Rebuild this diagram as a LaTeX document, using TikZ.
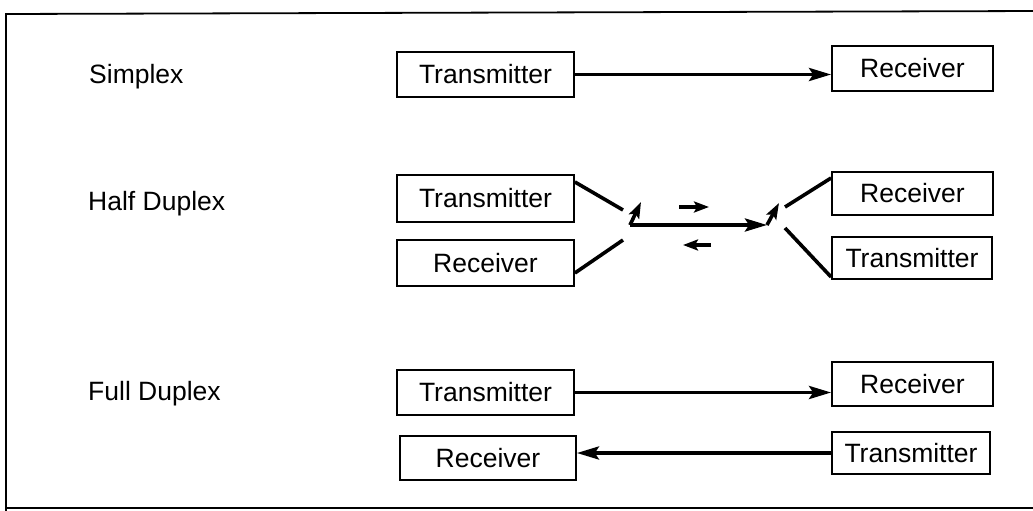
\documentclass[tikz,border=0pt]{standalone}
\usepackage{fontspec}
\setmainfont{Liberation Sans}
\usetikzlibrary{arrows.meta}
\begin{document}
\begin{tikzpicture}[x=1pt,y=-1pt,
  box/.style={draw, line width=1.8pt, inner sep=0pt, font=\fontsize{26.5}{30}\selectfont},
  lbl/.style={anchor=base west, inner sep=0pt, font=\fontsize{26.5}{30}\selectfont},
  conn/.style={line width=3.6pt, -{Stealth[length=22pt,width=13pt,inset=4pt]}},
  wire/.style={line width=3.6pt},
  tip/.style={line width=3.6pt, -{Stealth[length=16pt,width=11pt,inset=3pt]}},
  small/.style={line width=3.2pt, -{Stealth[length=15pt,width=11pt,inset=3pt]}}]
\useasboundingbox (0,0) rectangle (1033,511);
\fill[white] (0,0) rectangle (1033,511);
\draw[line width=1.8pt] (6,520) -- (6,14) -- (1040,11);
\draw[line width=1.8pt] (6,508) -- (1040,508);
% labels
\node[lbl] (l1) at (89,83) {Simplex};
\node[lbl] (l2) at (88,210) {Half Duplex};
\node[lbl] (l3) at (88,400) {Full Duplex};
% simplex
\node[box, minimum width=177pt, minimum height=45pt] (sT) at (485.5,74.5) {Transmitter};
\node[box, minimum width=161pt, minimum height=45pt] (sR) at (912.5,68.5) {Receiver};
\draw[conn] (sT.east) -- (sT.east -| sR.west);
% half duplex
\node[box, minimum width=177pt, minimum height=47pt] (hT) at (485.5,198.5) {Transmitter};
\node[box, minimum width=177pt, minimum height=46pt] (hR) at (485.5,263) {Receiver};
\node[box, minimum width=161pt, minimum height=43pt] (hR2) at (912.5,193.5) {Receiver};
\node[box, minimum width=160pt, minimum height=42pt] (hT2) at (912,258) {Transmitter};
\coordinate (a1) at (623,210);
\coordinate (a2) at (623,240);
\coordinate (p1) at (630,225);
\coordinate (p1t) at (641,202);
\coordinate (p2) at (767,225);
\coordinate (p2t) at (779,203);
\coordinate (b1) at (785,207);
\coordinate (b2) at (785,228);
\draw[wire] (hT.east |- 0,182) -- (a1);
\draw[wire] (hR.east |- 0,273) -- (a2);
\draw[wire] (hR2.west |- 0,178) -- (b1);
\draw[wire] (hT2.west |- 0,277) -- (b2);
\draw[tip] (p1) -- (p1t);
\draw[conn] (p1) -- (p2);
\draw[tip] (p2) -- (p2t);
\coordinate (m1) at (679,207);
\coordinate (m2) at (709,207);
\coordinate (n1) at (711,245);
\coordinate (n2) at (683,245);
\draw[small] (m1) -- (m2);
\draw[small] (n1) -- (n2);
% full duplex
\node[box, minimum width=177pt, minimum height=45pt] (fT) at (485.5,392.5) {Transmitter};
\node[box, minimum width=161pt, minimum height=44pt] (fR) at (912.5,384) {Receiver};
\node[box, minimum width=176pt, minimum height=44pt] (fR2) at (488,458) {Receiver};
\node[box, minimum width=158pt, minimum height=42pt] (fT2) at (911,453) {Transmitter};
\draw[conn] (fT.east) -- (fT.east -| fR.west);
\draw[conn] (fT2.west) -- (fT2.west -| fR2.east);
\end{tikzpicture}
\end{document}
